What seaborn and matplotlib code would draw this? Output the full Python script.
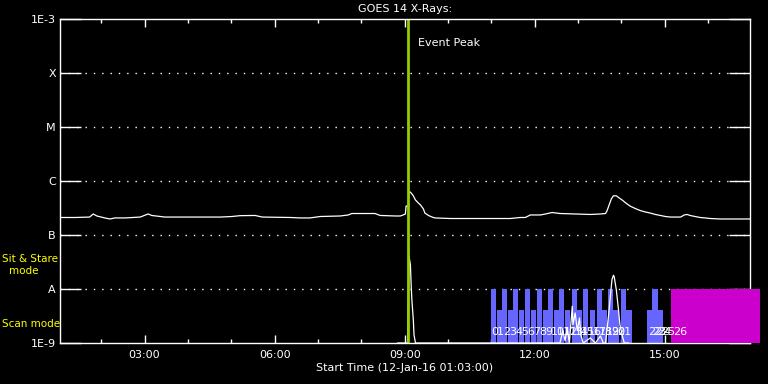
import numpy as np
import pandas as pd
import seaborn as sns
import matplotlib.pyplot as plt
import matplotlib.dates as mdates
from matplotlib.ticker import NullLocator

DAY = "2016-01-12 "

# GOES 14 long-channel flux (W/m^2)
flux_times = ["01:03", "01:24", "01:44", "01:49", "01:54", "02:05", "02:12", "02:19",
              "02:33", "02:54", "03:05", "03:10", "03:28", "03:49", "04:17", "04:45",
              "05:01", "05:12", "05:33", "05:43", "06:22", "06:35", "06:49", "07:03",
              "07:31", "07:42", "07:47", "08:19", "08:26", "08:47", "08:54", "08:58",
              "09:01", "09:02", "09:05", "09:06", "09:09", "09:12", "09:15", "09:19",
              "09:22", "09:26", "09:28", "09:33", "09:38", "09:42", "10:03", "10:31",
              "10:58", "11:26", "11:40", "11:47", "11:54", "12:08", "12:15", "12:24",
              "12:35", "12:56", "13:17", "13:31", "13:38", "13:40", "13:43", "13:46",
              "13:49", "13:53", "13:56", "14:01", "14:07", "14:12", "14:19", "14:26",
              "14:33", "14:40", "14:47", "14:54", "15:01", "15:08", "15:22", "15:27",
              "15:31", "15:35", "15:42", "15:49", "15:56", "16:03", "16:17", "16:31",
              "16:45", "16:58"]
flux_values = [2.11e-7, 2.11e-7, 2.15e-7, 2.45e-7, 2.25e-7, 2.07e-7, 1.98e-7, 2.07e-7,
               2.07e-7, 2.15e-7, 2.45e-7, 2.30e-7, 2.15e-7, 2.15e-7, 2.15e-7, 2.15e-7,
               2.20e-7, 2.28e-7, 2.30e-7, 2.15e-7, 2.11e-7, 2.07e-7, 2.07e-7, 2.20e-7,
               2.25e-7, 2.35e-7, 2.50e-7, 2.50e-7, 2.30e-7, 2.25e-7, 2.25e-7, 2.35e-7,
               2.45e-7, 3.44e-7, 3.44e-7, 6.53e-7, 6.00e-7, 5.32e-7, 4.45e-7, 3.91e-7,
               3.59e-7, 3.03e-7, 2.55e-7, 2.30e-7, 2.15e-7, 2.07e-7, 2.02e-7, 2.02e-7,
               2.02e-7, 2.02e-7, 2.11e-7, 2.11e-7, 2.35e-7, 2.35e-7, 2.45e-7, 2.61e-7,
               2.50e-7, 2.45e-7, 2.40e-7, 2.45e-7, 2.50e-7, 2.78e-7, 3.59e-7, 4.64e-7,
               5.32e-7, 5.32e-7, 4.95e-7, 4.45e-7, 3.83e-7, 3.44e-7, 3.10e-7, 2.84e-7,
               2.67e-7, 2.55e-7, 2.40e-7, 2.30e-7, 2.20e-7, 2.15e-7, 2.15e-7, 2.35e-7,
               2.40e-7, 2.30e-7, 2.20e-7, 2.11e-7, 2.07e-7, 2.02e-7, 1.98e-7, 1.98e-7,
               1.98e-7, 1.98e-7]

# second trace near the bottom of the panel
trace_times = ["08:50", "09:04", "09:06", "09:08", "09:09", "09:10", "09:12", "09:13",
               "09:15", "12:35", "12:39", "12:42", "12:45", "12:48", "12:52", "12:53",
               "12:56", "12:59", "13:02", "13:04", "13:07", "13:17", "13:24", "13:31",
               "13:35", "13:38", "13:40", "13:43", "13:46", "13:47", "13:49", "13:50",
               "13:53", "13:56", "13:58", "14:01", "14:04", "14:10"]
trace_values = [1e-9, 1e-9, 4.1e-8, 2.8e-8, 1.2e-8, 6.3e-9, 2.7e-9, 1.4e-9,
                1e-9, 1e-9, 1.7e-9, 1.1e-9, 1.9e-9, 1e-9, 4.8e-9, 2.2e-9,
                3.6e-9, 1.7e-9, 2.9e-9, 1.4e-9, 1e-9, 1.24e-9, 1e-9, 1.35e-9,
                1e-9, 1e-9, 1.7e-9, 4.1e-9, 1.1e-8, 1.5e-8, 1.8e-8, 1.7e-8,
                9.6e-9, 4.1e-9, 2.15e-9, 1.4e-9, 1e-9, 1e-9]

# observation blocks
scan_tall_times = ["11:00", "11:15", "11:30", "11:47", "12:03", "12:19", "12:34",
                   "12:52", "13:07", "13:26", "13:42", "14:00", "14:43"]
scan_short_times = ["11:08", "11:23", "11:38", "11:55", "12:12", "12:27", "12:42",
                    "12:59", "13:17", "13:33", "13:49", "14:07", "14:36", "14:50"]
scan_tall_level = 1e-8
scan_short_level = 4.1e-9
stare_start = "15:09"
stare_end = "17:12"
obs_label_times = ["11:00", "11:08", "11:16", "11:25", "11:33", "11:41", "11:50",
                   "11:58", "12:06", "12:14", "12:23", "12:31", "12:40", "12:48",
                   "12:56", "13:04", "13:13", "13:21", "13:29", "13:38", "13:46",
                   "13:54", "14:37", "14:43", "14:49", "14:55", "15:12"]
peak_time = "09:05"

level_values = [1e-9, 1e-8, 1e-7, 1e-6, 1e-5, 1e-4, 1e-3]
level_labels = ["1E-9", "A", "B", "C", "M", "X", "1E-3"]


def to_dt(times):
    return pd.to_datetime([DAY + t for t in times])


sns.set_style("dark")
plt.rcParams["font.family"] = ["DejaVu Sans"]

fig = plt.figure(figsize=(7.68, 3.84), dpi=100, facecolor="black")
ax = fig.add_axes([60 / 768, 41 / 384, 690 / 768, 324 / 384])
ax.set_facecolor("black")

# scan mode / sit & stare blocks
tall_x = mdates.date2num(to_dt(scan_tall_times))
short_x = mdates.date2num(to_dt(scan_short_times))
ax.bar(tall_x, scan_tall_level - 1e-9, width=7 / 1440, bottom=1e-9, align="edge",
       color="#6666ff", linewidth=0, zorder=1)
ax.bar(short_x, scan_short_level - 1e-9, width=7 / 1440, bottom=1e-9, align="edge",
       color="#6666ff", linewidth=0, zorder=1)
s0, s1 = mdates.date2num(to_dt([stare_start, stare_end]))
ax.bar([s0], [1e-8 - 1e-9], width=s1 - s0, bottom=1e-9, align="edge",
       color="#cc00cc", linewidth=0, zorder=3, clip_on=False)

for i, t in enumerate(to_dt(obs_label_times)):
    ax.text(t, 1.6e-9, str(i), color="white", fontsize=8, ha="left", va="center",
            zorder=4)

# dotted level lines
for lv in level_values[1:-1]:
    ax.axhline(lv, color="white", linestyle=(0, (1, 5)), linewidth=1, zorder=0.5)

sns.lineplot(x=to_dt(flux_times), y=flux_values, ax=ax, color="white",
             linewidth=0.9, zorder=2)
sns.lineplot(x=to_dt(trace_times), y=trace_values, ax=ax, color="white",
             linewidth=0.9, zorder=2)

ax.axvline(to_dt([peak_time])[0], color="#99cc00", linewidth=2, zorder=2.2)
ax.text(to_dt(["09:19"])[0], 3.6e-4, "Event Peak", color="white", fontsize=8,
        ha="left", va="center")

ax.set_yscale("log")
ax.set_ylim(1e-9, 1e-3)
ax.set_yticks(level_values)
ax.set_yticklabels(level_labels)
ax.yaxis.set_minor_locator(NullLocator())
ax.set_xlim(to_dt(["01:03"])[0], to_dt(["16:58"])[0])
ax.xaxis.set_major_locator(mdates.HourLocator(byhour=range(0, 24, 3)))
ax.xaxis.set_minor_locator(mdates.HourLocator())
ax.xaxis.set_major_formatter(mdates.DateFormatter("%H:%M"))
ax.set_xlabel("")
ax.set_ylabel("")
ax.grid(False)

ax.tick_params(axis="y", which="major", direction="in", length=15, width=1,
               left=True, right=True, colors="white", labelsize=8, pad=3)
ax.tick_params(axis="x", which="major", direction="in", length=6, width=1,
               top=True, bottom=True, colors="white", labelsize=8, pad=5)
ax.tick_params(axis="x", which="minor", direction="in", length=3, width=1,
               top=True, bottom=True, colors="white")
for sp in ax.spines.values():
    sp.set_visible(True)
    sp.set_color("white")
    sp.set_linewidth(1)

fig.text(405 / 768, 1 - 9 / 384, "GOES 14 X-Rays:", color="white", fontsize=8,
         ha="center", va="center")
fig.text(405 / 768, 1 - 368 / 384, "Start Time (12-Jan-16 01:03:00)", color="white",
         fontsize=8, ha="center", va="center")
fig.text(2 / 768, 1 - 259 / 384, "Sit & Stare", color="yellow", fontsize=7.5,
         ha="left", va="center")
fig.text(24 / 768, 1 - 271 / 384, "mode", color="yellow", fontsize=7.5,
         ha="center", va="center")
fig.text(2 / 768, 1 - 324 / 384, "Scan mode", color="yellow", fontsize=7.5,
         ha="left", va="center")

fig.savefig("out.png", dpi=100, facecolor="black")
